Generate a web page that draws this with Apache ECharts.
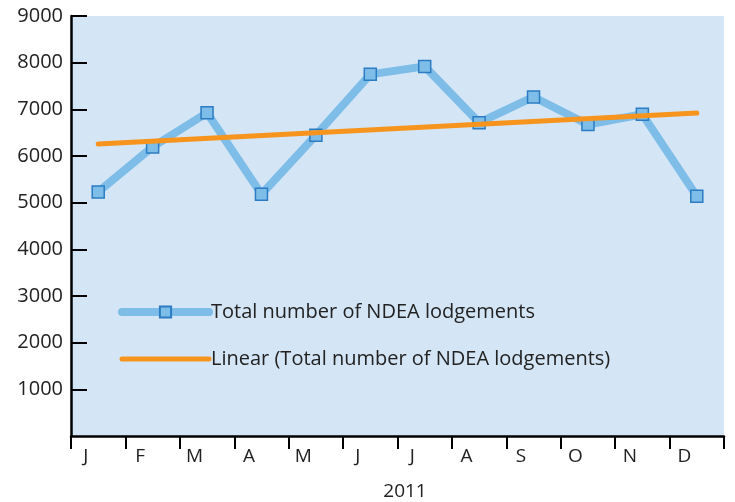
<!DOCTYPE html>
<html><head><meta charset="utf-8">
<script src="https://cdn.jsdelivr.net/npm/echarts@6/dist/echarts.min.js"></script>
<style>html,body{margin:0;padding:0;background:#fff}#c{width:735px;height:502px}</style>
</head><body><div id="c"></div>
<script>
var months = ['J','F','M','A','M','J','J','A','S','O','N','D'];
var lodgements = [5230, 6195, 6925, 5180, 6445, 7750, 7920, 6715, 7265, 6675, 6895, 5140];
var trendEnds = [6255, 6920];
var yTicks = [0,1000,2000,3000,4000,5000,6000,7000,8000,9000];
var seriesNames = ['Total number of NDEA lodgements', 'Linear (Total number of NDEA lodgements)'];

var trend = months.map(function(_, i){ return i === 0 ? trendEnds[0] : (i === months.length - 1 ? trendEnds[1] : null); });
var font = '"Open Sans", "Noto Sans", sans-serif';
var chart = echarts.init(document.getElementById('c'));
chart.setOption({
  animation: false,
  grid: { left: 71, right: 11, top: 16, bottom: 66, show: true, backgroundColor: '#d4e5f5', borderWidth: 0,
    containLabel: false, outerBoundsMode: 'none' },
  legend: {
    orient: 'vertical', left: 118, top: 300, itemGap: 23, itemWidth: 87, itemHeight: 14, padding: 0,
    textStyle: { fontFamily: font, fontSize: 20, color: '#222', lineHeight: 24, padding: [0, 0, 0, -3] },
    data: [
      { name: seriesNames[0], lineStyle: { width: 8, color: '#7dbde8' } },
      { name: seriesNames[1], lineStyle: { width: 5, color: '#f7941d' }, itemStyle: { opacity: 0 } }
    ]
  },
  xAxis: {
    type: 'category', data: months, boundaryGap: true,
    axisLine: { lineStyle: { color: '#000', width: 2.5 } },
    axisTick: { show: true, inside: false, length: 13, lineStyle: { color: '#000', width: 2 } },
    axisLabel: { fontFamily: font, fontSize: 19, color: '#222', margin: 11, padding: [0, 25, 0, 0] },
    name: '2011', nameLocation: 'middle', nameGap: 46,
    nameTextStyle: { fontFamily: font, fontSize: 19, color: '#222', padding: [0, 0, 0, 15] }
  },
  yAxis: {
    type: 'value', min: yTicks[0], max: yTicks[yTicks.length-1], interval: 1000,
    splitLine: { show: false },
    axisLine: { show: true, lineStyle: { color: '#000', width: 2.5 } },
    axisTick: { show: true, inside: true, length: 16, lineStyle: { color: '#000', width: 2 } },
    axisLabel: { fontFamily: font, fontSize: 20, color: '#222', margin: 8, showMinLabel: false,
      formatter: function(v){ return String(v); } }
  },
  series: [
    {
      name: seriesNames[0], type: 'line', data: lodgements, z: 2,
      lineStyle: { color: '#7dbde8', width: 8, cap: 'round', join: 'round' },
      symbol: 'rect', symbolSize: 12,
      itemStyle: { color: '#7dbde8', borderColor: '#2b7cc2', borderWidth: 1.5 }
    },
    {
      name: seriesNames[1], type: 'line', data: trend, connectNulls: true, z: 3,
      showSymbol: false, symbol: 'none',
      lineStyle: { color: '#f7941d', width: 5, cap: 'round' },
      itemStyle: { color: '#f7941d' }
    }
  ]
});
</script></body></html>
